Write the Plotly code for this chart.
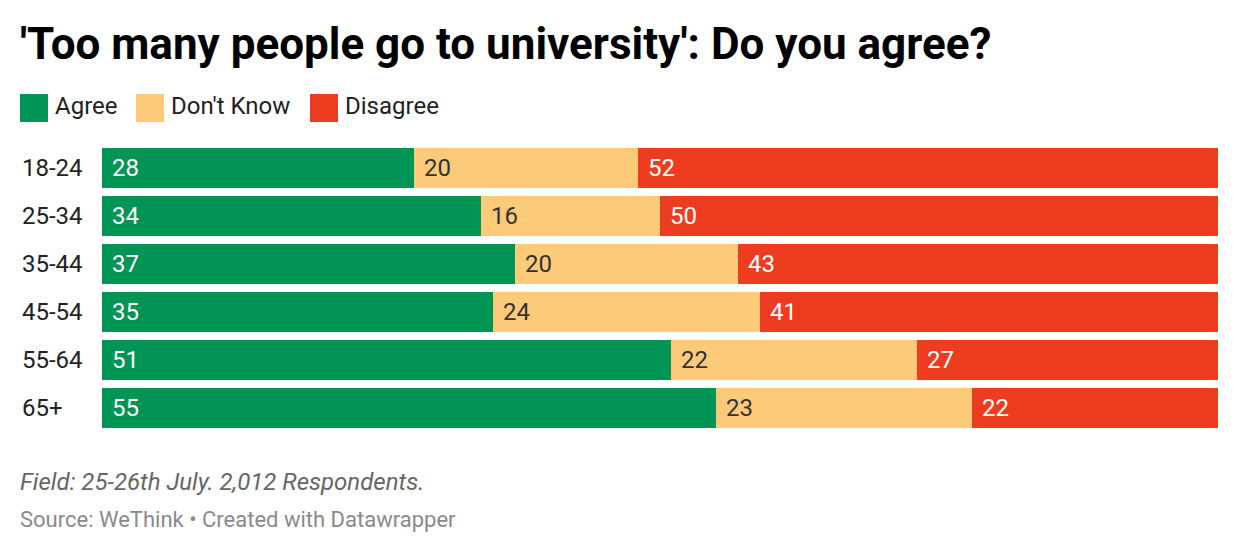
import plotly.graph_objects as go

categories = ["18-24", "25-34", "35-44", "45-54", "55-64", "65+"]
agree = [28, 34, 37, 35, 51, 55]
dont_know = [20, 16, 20, 24, 22, 23]
disagree = [52, 50, 43, 41, 27, 22]
series_names = ["Agree", "Don't Know", "Disagree"]
colors = ["#009554", "#fdca79", "#ee3c21"]
label_colors = ["#ffffff", "#333333", "#ffffff"]

title = "'Too many people go to university': Do you agree?"
note = "Field: 25-26th July. 2,012 Respondents."
source = "Source: WeThink • Created with Datawrapper"

W, H = 1240, 554
O = 8  # page body margin offset
# plot area in page pixels
X0, X1, Y0, Y1 = 102, 1218, 144, 432
L, T = X0 - O, Y0 - O
R, B = W - (X1 - O), H - (Y1 - O)
PW, PH = X1 - X0, Y1 - Y0

def px(x):
    return (x - X0) / PW

def py(y):
    return (Y1 - y) / PH

FONT = "Roboto"
fig = go.Figure()
series = [agree, dont_know, disagree]
for name, vals, col in zip(series_names, series, colors):
    fig.add_trace(go.Bar(y=categories, x=vals, name=name, orientation="h",
                         marker=dict(color=col, line=dict(width=0)),
                         showlegend=False, hoverinfo="x+name"))

annotations = []
for i, cat in enumerate(categories):
    base = 0
    for s, vals in enumerate(series):
        annotations.append(dict(x=base, y=cat, xref="x", yref="y", text=str(vals[i]),
                                showarrow=False, xanchor="left", yanchor="middle", xshift=8,
                                font=dict(family=FONT, size=24, color=label_colors[s])))
        base += vals[i]
    annotations.append(dict(x=px(20), y=cat, xref="paper", yref="y", text=cat,
                            showarrow=False, xanchor="left", yanchor="middle",
                            font=dict(family=FONT, size=24, color="#222222")))

annotations.append(dict(x=px(18), y=py(44), xref="paper", yref="paper", text="<b>" + title + "</b>",
                        showarrow=False, xanchor="left", yanchor="middle",
                        font=dict(family=FONT, size=44, color="#000000")))
shapes = []
leg_x = [20, 136, 310]
for name, col, lx in zip(series_names, colors, leg_x):
    shapes.append(dict(type="rect", xref="paper", yref="paper", x0=px(lx), x1=px(lx + 28),
                       y0=py(122), y1=py(94), fillcolor=col, line=dict(width=0)))
    annotations.append(dict(x=px(lx + 33), y=py(106), xref="paper", yref="paper", text=name,
                            showarrow=False, xanchor="left", yanchor="middle",
                            font=dict(family=FONT, size=24, color="#222222")))
annotations.append(dict(x=px(18), y=py(482), xref="paper", yref="paper", text="<i>" + note + "</i>",
                        showarrow=False, xanchor="left", yanchor="middle",
                        font=dict(family=FONT, size=24, color="#666666")))
annotations.append(dict(x=px(18), y=py(519), xref="paper", yref="paper", text=source,
                        showarrow=False, xanchor="left", yanchor="middle",
                        font=dict(family=FONT, size=22, color="#8a8a8a")))

fig.update_layout(
    width=W, height=H, barmode="stack", bargap=8 / 48,
    margin=dict(l=L, r=R, t=T, b=B, pad=0),
    paper_bgcolor="white", plot_bgcolor="white",
    xaxis=dict(range=[0, 100], visible=False, fixedrange=True),
    yaxis=dict(autorange="reversed", visible=False, fixedrange=True),
    annotations=annotations, shapes=shapes,
    font=dict(family=FONT),
)
fig.write_html("out.html")
